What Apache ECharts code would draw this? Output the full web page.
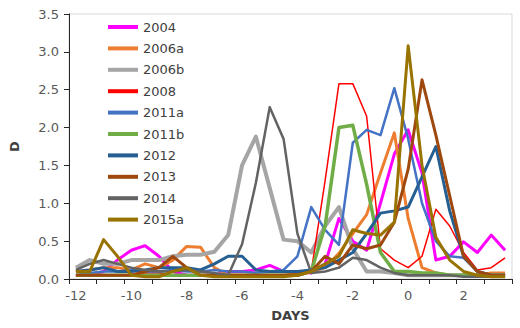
<!DOCTYPE html>
<html>
<head>
<meta charset="utf-8">
<script src="https://cdn.jsdelivr.net/npm/echarts@6/dist/echarts.min.js"></script>
<style>
  html, body { margin: 0; padding: 0; background: #fff; }
  #main { width: 520px; height: 328px; }
</style>
</head>
<body>
<div id="main"></div>
<script>
// half-day steps, -12 .. 3.5
const days = ['-12', '-11.5', '-11', '-10.5', '-10', '-9.5', '-9', '-8.5', '-8', '-7.5',
  '-7', '-6.5', '-6', '-5.5', '-5', '-4.5', '-4', '-3.5', '-3', '-2.5',
  '-2', '-1.5', '-1', '-0.5', '0', '0.5', '1', '1.5', '2', '2.5', '3', '3.5'];

const d2004  = [0.05, 0.05, 0.1, 0.25, 0.38, 0.44, 0.3, 0.1, 0.05, 0.05, 0.05, 0.1, 0.1, 0.12, 0.18, 0.1, 0.1, 0.08, 0.2, 0.8, 0.5, 0.38, 1.0, 1.65, 1.97, 1.4, 0.25, 0.3, 0.49, 0.35, 0.58, 0.38];
const d2006a = [0.1, 0.12, 0.15, 0.15, 0.12, 0.2, 0.15, 0.25, 0.43, 0.42, 0.15, 0.05, 0.05, 0.05, 0.05, 0.05, 0.08, 0.1, 0.15, 0.34, 0.6, 0.85, 1.4, 1.93, 0.8, 0.15, 0.08, 0.05, 0.05, 0.05, 0.08, 0.08];
const d2006b = [0.15, 0.25, 0.2, 0.2, 0.25, 0.25, 0.25, 0.3, 0.32, 0.32, 0.36, 0.58, 1.5, 1.88, 1.2, 0.52, 0.5, 0.35, 0.7, 0.95, 0.4, 0.1, 0.1, 0.08, 0.05, 0.05, 0.05, 0.05, 0.05, 0.05, 0.05, 0.05];
const d2008  = [0.05, 0.05, 0.05, 0.05, 0.05, 0.08, 0.08, 0.05, 0.05, 0.05, 0.05, 0.05, 0.05, 0.05, 0.05, 0.05, 0.08, 0.1, 1.3, 2.58, 2.58, 2.15, 0.4, 0.25, 0.15, 0.3, 0.92, 0.7, 0.35, 0.12, 0.15, 0.28];
const d2011a = [0.05, 0.08, 0.1, 0.1, 0.12, 0.1, 0.1, 0.12, 0.1, 0.1, 0.12, 0.1, 0.1, 0.08, 0.1, 0.12, 0.3, 0.95, 0.65, 0.45, 1.8, 1.97, 1.9, 2.52, 1.85, 1.0, 0.5, 0.3, 0.28, 0.1, 0.05, 0.05];
const d2011b = [0.05, 0.05, 0.05, 0.05, 0.05, 0.05, 0.05, 0.05, 0.05, 0.05, 0.05, 0.05, 0.05, 0.05, 0.05, 0.05, 0.05, 0.1, 0.7, 2.0, 2.03, 1.25, 0.35, 0.1, 0.1, 0.08, 0.08, 0.05, 0.05, 0.05, 0.05, 0.05];
const d2012  = [0.1, 0.12, 0.15, 0.1, 0.1, 0.12, 0.15, 0.15, 0.15, 0.12, 0.2, 0.3, 0.3, 0.12, 0.1, 0.1, 0.1, 0.12, 0.15, 0.25, 0.35, 0.6, 0.87, 0.9, 0.95, 1.35, 1.75, 0.9, 0.3, 0.1, 0.05, 0.05];
const d2013  = [0.05, 0.05, 0.05, 0.05, 0.05, 0.1, 0.15, 0.3, 0.15, 0.05, 0.05, 0.05, 0.05, 0.05, 0.05, 0.05, 0.05, 0.1, 0.3, 0.2, 0.45, 0.4, 0.45, 0.75, 1.45, 2.63, 1.9, 1.1, 0.3, 0.1, 0.05, 0.05];
const d2014  = [0.12, 0.2, 0.25, 0.2, 0.15, 0.12, 0.1, 0.1, 0.12, 0.1, 0.08, 0.05, 0.46, 1.27, 2.27, 1.85, 0.6, 0.08, 0.1, 0.15, 0.28, 0.25, 0.15, 0.08, 0.05, 0.05, 0.05, 0.05, 0.03, 0.03, 0.03, 0.03];
const d2015a = [0.1, 0.1, 0.52, 0.3, 0.05, 0.03, 0.03, 0.1, 0.15, 0.05, 0.03, 0.03, 0.03, 0.03, 0.03, 0.03, 0.05, 0.1, 0.2, 0.3, 0.65, 0.6, 0.58, 0.75, 3.08, 1.5, 0.55, 0.25, 0.1, 0.05, 0.03, 0.03];

const names  = ['2004', '2006a', '2006b', '2008', '2011a', '2011b', '2012', '2013', '2014', '2015a'];
const values = [d2004, d2006a, d2006b, d2008, d2011a, d2011b, d2012, d2013, d2014, d2015a];
const colors = ['#FF00FF', '#ED7D31', '#A5A5A5', '#FF0000', '#4472C4', '#70AD47', '#255E91', '#9E480E', '#636363', '#997300'];
const widths = [3, 3, 4, 1.5, 2.5, 3.5, 3, 3, 2.5, 3];

const font = 'DejaVu Sans, Verdana, sans-serif';

const chart = echarts.init(document.getElementById('main'), null, { renderer: 'svg' });

const series = names.map((name, i) => ({
  name: name,
  type: 'line',
  data: values[i],
  symbol: 'none',
  lineStyle: { color: colors[i], width: widths[i], join: 'round' },
  itemStyle: { color: colors[i] }
}));

chart.setOption({
  animation: false,
  color: colors,
  grid: {
    left: 68, right: 8, top: 14, bottom: 49,
    show: true, borderColor: '#d9d9d9', borderWidth: 1
  },
  legend: {
    orient: 'vertical',
    left: 103,
    top: 15,
    icon: 'rect',
    itemWidth: 30,
    itemHeight: 4,
    itemGap: 7.4,
    textStyle: { fontFamily: font, fontSize: 13, color: '#404040', lineHeight: 14 },
    data: names
  },
  xAxis: {
    type: 'category',
    data: days,
    boundaryGap: true,
    name: 'DAYS',
    nameLocation: 'middle',
    nameGap: 30,
    nameTextStyle: { fontFamily: font, fontSize: 13, fontWeight: 'bold', color: '#404040' },
    axisLine: { lineStyle: { color: '#262626', width: 1 } },
    axisTick: { show: true, interval: 1, length: 5, lineStyle: { color: '#262626' } },
    axisLabel: { interval: 3, margin: 10, fontFamily: font, fontSize: 13, color: '#595959' },
    splitLine: { show: false }
  },
  yAxis: {
    type: 'value',
    min: 0,
    max: 3.5,
    interval: 0.5,
    name: 'D',
    nameLocation: 'middle',
    nameGap: 48,
    nameRotate: 90,
    nameTextStyle: { fontFamily: font, fontSize: 13, fontWeight: 'bold', color: '#404040' },
    axisLine: { show: true, lineStyle: { color: '#262626', width: 1 } },
    axisTick: { show: true, length: 5, lineStyle: { color: '#262626' } },
    axisLabel: {
      margin: 10, fontFamily: font, fontSize: 13, color: '#595959',
      formatter: v => v.toFixed(1)
    },
    splitLine: { show: false }
  },
  series: series
});
</script>
</body>
</html>
